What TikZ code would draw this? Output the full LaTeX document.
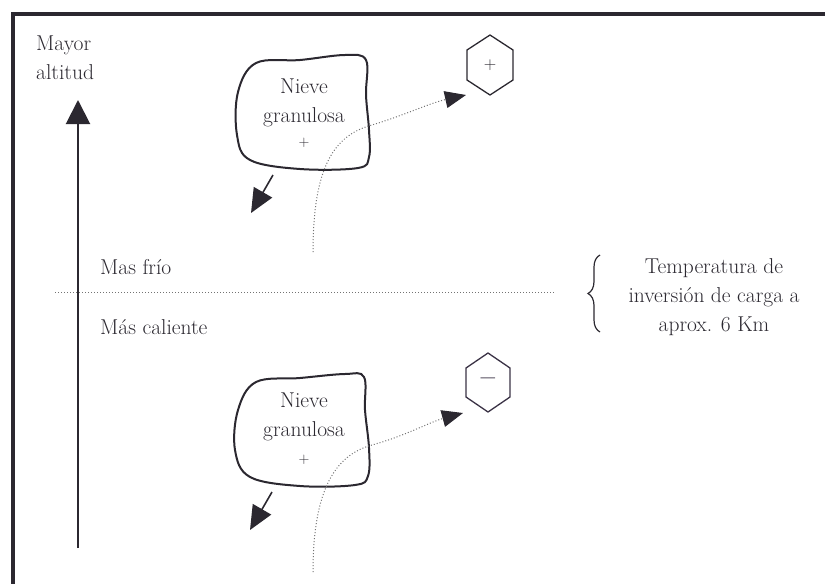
\documentclass[tikz,border=0pt]{standalone}
\usetikzlibrary{arrows.meta,decorations.pathreplacing}
\definecolor{ink}{HTML}{2B2830}
\definecolor{carga}{HTML}{3A3245}
\tikzset{
  txt/.style={font=\fontsize{21.5}{29}\selectfont, text=ink, inner sep=0pt},
  blob/.style={line width=2pt, draw=ink},
  puntos/.style={dotted, line width=1pt, draw=black!55},
  flechita/.style={line width=1.6pt, draw=ink, -{Triangle[length=24pt,width=21pt,color=ink]}},
  punta/.style={-{Triangle[length=21pt,width=17pt,color=ink]}},
  hexa/.style={line width=1.3pt, draw=#1, line join=round},
}

\begin{document}
\begin{tikzpicture}[x=1pt, y=-1pt]
\useasboundingbox (0,0) rectangle (825,584);
% marco
\draw[line width=4pt, ink] (825,14) -- (13,14) -- (13,584);

% eje de altitud
\node[txt, align=left, anchor=north west] (mayor) at (36,36) {Mayor\\altitud};
\coordinate (base) at (78,548);
\coordinate (cima) at (78,100);
\draw[line width=2pt, ink, -{Triangle[length=24pt,width=24pt]}] (base) -- (cima);

% frio / caliente
\coordinate (izq) at (55,292);
\coordinate (der) at (555,292);
\draw[puntos] (izq) -- (der);
\node[txt, anchor=west] (frio) at (100,267) {Mas frío};
\node[txt, anchor=west] (caliente) at (100,327) {Más caliente};

\node[txt, align=center] (inversion) at (714,297) {Temperatura de\\inversión de carga a\\aprox. 6 Km};
\draw[line width=1.2pt, ink, decorate, decoration={brace, amplitude=12pt}] (600,332) -- (600,255);

% nieve granulosa arriba
\draw[blob] plot[smooth cycle, tension=0.6] coordinates {(256,63) (300,60) (345,55) (366,60) (366,95) (369,130) (369,157) (358,168) (300,169) (250,160) (237,135) (238,92)};
\node[txt, align=center] (nieveA) at (304,103) {Nieve\\granulosa};
\node[txt, font=\fontsize{15}{15}\selectfont] (masA) at (304,143) {+};
\coordinate (salA) at (273,175);
\coordinate (finA) at (251,213);
\draw[flechita] (salA) -- (finA);
\coordinate (iniA) at (313,252);
\coordinate (puntaA) at (466,95);
\draw[puntos, punta] (iniA) .. controls (313,165) and (335,135) .. (372,125) .. controls (405,115) and (430,103) .. (puntaA);
\node[txt, font=\fontsize{17}{17}\selectfont] (cargaA) at (490,65) {$+$};
\draw[hexa=ink] (cargaA.center) ++(0,-30) -- ++(23,15) -- ++(0,30) -- ++(-23,15) -- ++(-23,-15) -- ++(0,-30) -- cycle;

% nieve granulosa abajo
\draw[blob] plot[smooth cycle, tension=0.6] coordinates {(256,382) (300,378) (345,374) (364,377) (365,410) (369,448) (368,476) (355,485) (300,486) (250,477) (235,450) (238,410)};
\node[txt, align=center] (nieveB) at (304,417) {Nieve\\granulosa};
\node[txt, font=\fontsize{15}{15}\selectfont] (masB) at (304,460) {+};
\coordinate (salB) at (272,492);
\coordinate (finB) at (250,530);
\draw[flechita] (salB) -- (finB);
\coordinate (iniB) at (313,572);
\coordinate (puntaB) at (463,413);
\draw[puntos, punta] (iniB) .. controls (313,490) and (335,455) .. (372,445) .. controls (405,436) and (430,422) .. (puntaB);
\node[txt, font=\fontsize{26}{26}\bfseries, text=carga] (cargaB) at (488,382) {--};
\draw[hexa=carga] (cargaB.center) ++(0,-29) -- ++(22,15) -- ++(0,29) -- ++(-22,15) -- ++(-22,-15) -- ++(0,-29) -- cycle;
\end{tikzpicture}
\end{document}
